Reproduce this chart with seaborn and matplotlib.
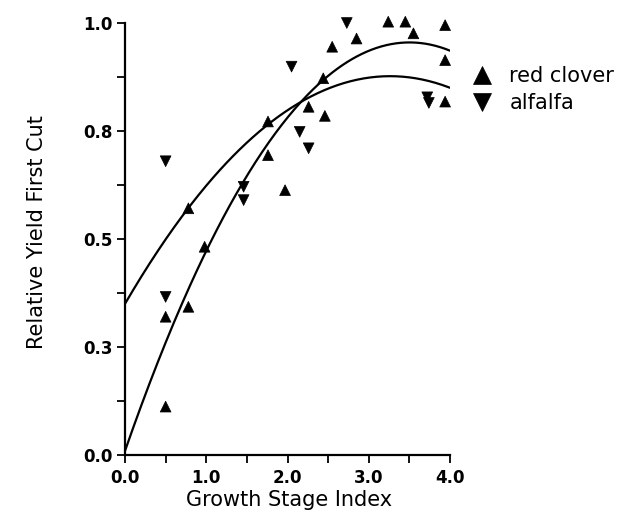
import numpy as np
import pandas as pd
import matplotlib
matplotlib.use("Agg")
import matplotlib.pyplot as plt
import seaborn as sns

# ---- data ----
clover_x = [0.50, 0.50, 0.78, 0.78, 0.98, 1.76, 1.76, 1.97, 2.26, 2.44, 2.46, 2.55, 2.85, 3.24, 3.45, 3.55, 3.94, 3.94, 3.94]
clover_y = [0.112, 0.320, 0.343, 0.571, 0.482, 0.694, 0.772, 0.613, 0.806, 0.872, 0.785, 0.945, 0.964, 1.003, 1.003, 0.976, 0.995, 0.914, 0.818]
alfalfa_x = [0.50, 0.50, 1.46, 1.46, 2.05, 2.15, 2.26, 2.73, 3.72, 3.74]
alfalfa_y = [0.680, 0.366, 0.621, 0.590, 0.899, 0.748, 0.710, 1.000, 0.828, 0.815]

# quadratic fit coefficients (highest power first)
clover_fit = [-0.0771, 0.540, 0.0095]
alfalfa_fit = [-0.0495, 0.323, 0.350]
fit_range = [0.0, 4.0]

species = ["red clover", "alfalfa"]
x_ticks = [0.0, 1.0, 2.0, 3.0, 4.0]
x_ticklabels = ["0.0", "1.0", "2.0", "3.0", "4.0"]
y_ticks = [0.0, 0.25, 0.5, 0.75, 1.0]
y_ticklabels = ["0.0", "0.3", "0.5", "0.8", "1.0"]

sns.set_style("ticks")
plt.rcParams["font.family"] = ["DejaVu Sans"]
plt.rcParams["text.color"] = "black"
plt.rcParams["axes.labelcolor"] = "black"
plt.rcParams["xtick.color"] = "black"
plt.rcParams["ytick.color"] = "black"

df = pd.DataFrame({
    "x": clover_x + alfalfa_x,
    "y": clover_y + alfalfa_y,
    "species": [species[0]] * len(clover_x) + [species[1]] * len(alfalfa_x),
})

fig = plt.figure(figsize=(6.29, 5.17), dpi=100)
ax = fig.add_axes([125 / 629, 1 - 455 / 517, 325 / 629, 432 / 517])

# fitted curves
xs = np.linspace(fit_range[0], fit_range[1], 200)
curves = pd.DataFrame({
    "x": np.concatenate([xs, xs]),
    "y": np.concatenate([np.polyval(clover_fit, xs), np.polyval(alfalfa_fit, xs)]),
    "fit": [species[0]] * len(xs) + [species[1]] * len(xs),
})
sns.lineplot(data=curves, x="x", y="y", units="fit", estimator=None,
             color="black", lw=1.6, ax=ax, legend=False, zorder=2)

sns.scatterplot(data=df, x="x", y="y", style="species",
                markers={species[0]: "^", species[1]: "v"},
                color="black", s=60, edgecolor="black", linewidth=0.5,
                ax=ax, clip_on=False, zorder=3)

ax.set_xlim(0, 4)
ax.set_ylim(0, 1)
ax.set_xticks(x_ticks)
ax.set_xticklabels(x_ticklabels)
ax.set_xticks(np.arange(0.5, 4.0, 1.0), minor=True)
ax.set_yticks(y_ticks)
ax.set_yticklabels(y_ticklabels)
ax.set_yticks(np.arange(0.125, 1.0, 0.25), minor=True)

for lab in ax.get_xticklabels() + ax.get_yticklabels():
    lab.set_fontweight("bold")
    lab.set_fontsize(12)
    lab.set_color("black")

ax.tick_params(which="both", direction="out", length=6, width=1.3, color="black")
ax.tick_params(axis="x", pad=4)
ax.tick_params(axis="y", pad=3)
for side in ["top", "right"]:
    ax.spines[side].set_visible(False)
for side in ["left", "bottom"]:
    ax.spines[side].set_linewidth(1.6)
    ax.spines[side].set_color("black")

ax.set_xlabel("Growth Stage Index", fontsize=15, color="black")
ax.set_ylabel("Relative Yield First Cut", fontsize=15, color="black")
ax.xaxis.set_label_coords(0.506, -0.08)
ax.yaxis.set_label_coords(-0.24, 0.516)

leg = ax.legend(loc="upper left", bbox_to_anchor=(1.035, 0.90), frameon=False,
                markerscale=1.6, fontsize=15, handletextpad=0.3,
                labelspacing=0.35, borderpad=0, borderaxespad=0)
for h in leg.legend_handles:
    h.set_color("black")
for t in leg.get_texts():
    t.set_color("black")

fig.savefig("out.png", dpi=100)
